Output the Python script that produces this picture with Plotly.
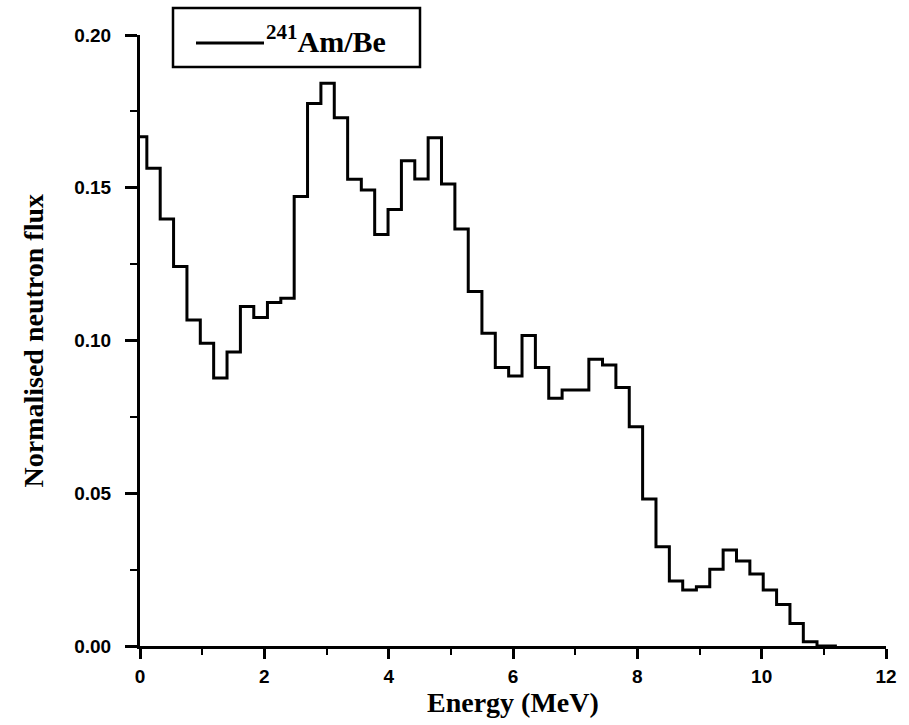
import plotly.graph_objects as go

# Bin energies (MeV) and normalised neutron flux
energy = [0.00, 0.22, 0.43, 0.65, 0.86, 1.08, 1.29, 1.51, 1.72, 1.94,
          2.16, 2.37, 2.59, 2.80, 3.02, 3.23, 3.45, 3.67, 3.88, 4.10,
          4.31, 4.53, 4.74, 4.96, 5.17, 5.39, 5.61, 5.82, 6.04, 6.25,
          6.47, 6.68, 6.90, 7.11, 7.33, 7.55, 7.76, 7.98, 8.19, 8.41,
          8.62, 8.84, 9.06, 9.27, 9.49, 9.70, 9.92, 10.13, 10.35, 10.56,
          10.78, 11.00, 11.21]
flux = [0.1667, 0.1564, 0.1398, 0.1242, 0.1067, 0.0991, 0.0877, 0.0962, 0.1111, 0.1075,
        0.1124, 0.1138, 0.1471, 0.1776, 0.1842, 0.1729, 0.1528, 0.1493, 0.1347, 0.1429,
        0.1588, 0.1529, 0.1664, 0.1512, 0.1365, 0.1160, 0.1024, 0.0912, 0.0884, 0.1016,
        0.0912, 0.0811, 0.0838, 0.0838, 0.0939, 0.0920, 0.0846, 0.0718, 0.0481, 0.0325,
        0.0213, 0.0183, 0.0194, 0.0251, 0.0314, 0.0278, 0.0236, 0.0183, 0.0136, 0.0074,
        0.0014, 0.0, 0.0]

series_name = "<sup>241</sup>Am/Be"
x_title = "Energy (MeV)"
y_title = "Normalised neutron flux"

tick_font = dict(family="Liberation Sans, Arial, sans-serif", size=19, color="black", weight="bold")
serif = "Liberation Serif, Times New Roman, serif"

fig = go.Figure()
fig.add_trace(go.Scatter(
    x=energy, y=flux, mode="lines", line=dict(shape="hvh", color="black", width=3),
    name=series_name, showlegend=False,
))

fig.update_layout(
    width=909, height=725,
    margin=dict(l=140, r=23, t=35, b=79),
    paper_bgcolor="white", plot_bgcolor="white",
    xaxis=dict(
        range=[0, 12], dtick=2, tick0=0, showgrid=False, zeroline=False,
        showline=True, linecolor="black", linewidth=3,
        ticks="outside", ticklen=10, tickwidth=3, tickcolor="black",
        minor=dict(dtick=1, ticks="outside", ticklen=6, tickwidth=2, tickcolor="black", showgrid=False),
        tickfont=tick_font, ticklabelstandoff=1,
    ),
    yaxis=dict(
        range=[0, 0.2], dtick=0.05, tick0=0, tickformat=".2f", showgrid=False, zeroline=False,
        showline=True, linecolor="black", linewidth=3,
        ticks="outside", ticklen=12, tickwidth=3, tickcolor="black",
        minor=dict(dtick=0.025, ticks="outside", ticklen=7, tickwidth=2, tickcolor="black", showgrid=False),
        tickfont=tick_font, ticklabelstandoff=10,
    ),
    annotations=[
        dict(text=x_title, xref="paper", yref="paper", x=0.5, y=0, yshift=-56,
             xanchor="center", yanchor="middle", showarrow=False,
             font=dict(family=serif, size=28, color="black", weight="bold")),
        dict(text=y_title, xref="paper", yref="paper", x=0, y=0.5, xshift=-107,
             xanchor="center", yanchor="middle", textangle=-90, showarrow=False,
             font=dict(family=serif, size=28, color="black", weight="bold")),
        dict(text=series_name, xref="paper", yref="paper", x=0.0, y=1.0,
             xshift=124, yshift=-4, xanchor="left", yanchor="middle", showarrow=False,
             font=dict(family=serif, size=30, color="black", weight="bold")),
    ],
    shapes=[
        dict(type="rect", xref="paper", yref="paper", xsizemode="pixel", ysizemode="pixel",
             xanchor=0, yanchor=1, x0=33, x1=280, y0=27, y1=-32,
             line=dict(color="black", width=2.5), fillcolor="rgba(0,0,0,0)"),
        dict(type="line", xref="paper", yref="paper", xsizemode="pixel", ysizemode="pixel",
             xanchor=0, yanchor=1, x0=56, x1=124, y0=-8, y1=-8,
             line=dict(color="black", width=3)),
    ],
)

fig.write_html("out.html")
